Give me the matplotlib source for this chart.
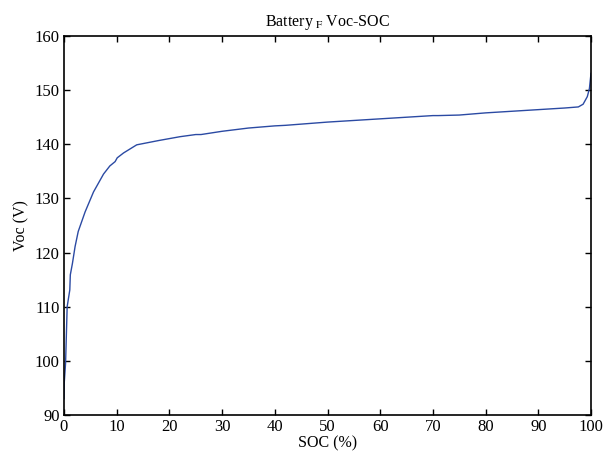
import matplotlib.pyplot as plt

soc = [0, 0.05, 0.3, 0.6, 1.1, 1.2, 1.6, 2.1, 2.7, 4.0, 5.6, 7.5, 8.7, 9.7, 10.1,
       11.3, 13.8, 18, 22, 25, 26, 30, 35, 40, 42, 50, 60, 70, 71, 75, 80, 90,
       95, 97.6, 98.5, 99.3, 99.7, 100]
voc = [93, 96, 99.6, 110, 113.1, 115.9, 118, 121.1, 123.9, 127.5, 131.2, 134.5,
       136, 136.8, 137.5, 138.4, 139.9, 140.7, 141.4, 141.8, 141.8, 142.4, 143.0,
       143.4, 143.5, 144.1, 144.7, 145.3, 145.3, 145.4, 145.8, 146.4, 146.7,
       146.9, 147.4, 148.8, 150.3, 153.1]

plt.rcParams['font.family'] = ['Liberation Serif', 'DejaVu Serif']
plt.rcParams['mathtext.fontset'] = 'stix'

fig = plt.figure(figsize=(6.05, 4.53), dpi=100)
ax = fig.add_axes([64/605, 38/453, 527/605, 379/453])
ax.plot(soc, voc, color='#2b4aa3', linewidth=1.0)
ax.set_xlim(0, 100)
ax.set_ylim(90, 160)
ax.set_xticks(range(0, 101, 10))
ax.set_yticks(range(90, 161, 10))
ax.tick_params(direction='in', top=True, right=True, labelsize=12, length=4, width=1, pad=3)
for s in ax.spines.values():
    s.set_linewidth(1.2)
ax.set_xlabel('SOC (%)', fontsize=11.5, labelpad=0)
ax.set_ylabel('Voc (V)', fontsize=11.5, labelpad=4)
ax.set_title('Battery$_{\\ \\mathrm{F}}$ Voc-SOC', fontsize=11.5, pad=7)

fig.savefig('out.png', dpi=100)
